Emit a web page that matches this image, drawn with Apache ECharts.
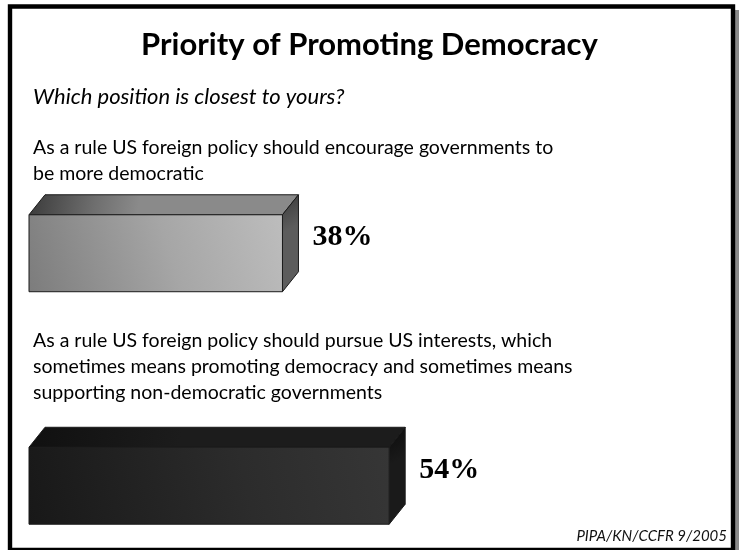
<!DOCTYPE html>
<html>
<head>
<meta charset="utf-8">
<script src="https://cdn.jsdelivr.net/npm/echarts@6/dist/echarts.min.js"></script>
<style>
  html, body { margin: 0; padding: 0; background: #fff; }
  #chart { width: 739px; height: 550px; }
</style>
</head>
<body>
<div id="chart"></div>
<script>
// Survey answers and their shares (percent)
const categories = [
  'As a rule US foreign policy should encourage governments to\nbe more democratic',
  'As a rule US foreign policy should pursue US interests, which\nsometimes means promoting democracy and sometimes means\nsupporting non-democratic governments'
];
const shares = [38, 54];

const titleText = 'Priority of Promoting Democracy';
const questionText = 'Which position is closest to yours?';
const sourceText = 'PIPA/KN/CCFR 9/2005';

const FONT = 'Lato, "Open Sans", sans-serif';

// Face shading for each box: front, top, side
const palettes = [
  {
    front: [['#7c7c7c', 0], ['#a6a6a6', 0.55], ['#bdbdbd', 1]],
    top: [['#3a3a3a', 0], ['#6e6e6e', 0.6], ['#8a8a8a', 1]],
    side: [['#3a3a3a', 0], ['#5c5c5c', 1]]
  },
  {
    front: [['#181818', 0], ['#2c2c2c', 0.6], ['#363636', 1]],
    top: [['#101010', 0], ['#1c1c1c', 1]],
    side: [['#0c0c0c', 0], ['#1a1a1a', 1]]
  }
];

function grad(x, y, x2, y2, stops) {
  return new echarts.graphic.LinearGradient(x, y, x2, y2,
    stops.map(s => ({ color: s[0], offset: s[1] })));
}

const DX = 16, DY = 20;

function renderBox(params, api) {
  const idx = api.value(1);
  const val = api.value(0);
  const start = api.coord([0, idx]);
  const end = api.coord([val, idx]);
  const h = api.size([0, 1])[1] * 0.331;
  const x0 = start[0], x1 = end[0], yc = start[1];
  const yt = yc - h / 2, yb = yc + h / 2;
  const pal = palettes[idx];
  const stroke = '#1a1a1a';
  return {
    type: 'group',
    children: [
      {
        type: 'polygon',
        shape: { points: [[x0, yt], [x0 + DX, yt - DY], [x1 + DX, yt - DY], [x1, yt]] },
        style: { fill: grad(0, 0, 0.4, 1, pal.top), stroke: stroke, lineWidth: 1 }
      },
      {
        type: 'polygon',
        shape: { points: [[x1, yt], [x1 + DX, yt - DY], [x1 + DX, yb - DY], [x1, yb]] },
        style: { fill: grad(0, 0, 1, 0.3, pal.side), stroke: stroke, lineWidth: 1 }
      },
      {
        type: 'rect',
        shape: { x: x0, y: yt, width: x1 - x0, height: h },
        style: { fill: grad(0, 1, 1, 0, pal.front), stroke: stroke, lineWidth: 1 }
      },
      {
        type: 'text',
        x: x1 + DX + 14,
        y: yc - 16,
        style: {
          text: val + '%',
          fill: '#000',
          font: 'bold 30px "Liberation Serif", "Times New Roman", serif',
          verticalAlign: 'middle',
          align: 'left'
        }
      }
    ]
  };
}

const chart = echarts.init(document.getElementById('chart'), null, { renderer: 'canvas' });

chart.setOption({
  backgroundColor: '#fff',
  animation: false,
  grid: { left: 29, width: 667, top: 137, height: 465, outerBoundsMode: 'none', containLabel: false },
  xAxis: { type: 'value', min: 0, max: 100, show: false },
  yAxis: { type: 'category', data: categories, inverse: true, show: false },
  series: [{
    type: 'custom',
    renderItem: renderBox,
    encode: { x: 0, y: 1 },
    data: shares.map((v, i) => [v, i]),
    clip: false
  }],
  graphic: [
    // drop shadow along the right edge of the frame
    { type: 'rect', shape: { x: 735, y: 10, width: 4, height: 540 }, style: { fill: '#8a8a8a' }, silent: true },
    // frame
    { type: 'rect', shape: { x: 10, y: 6.5, width: 723, height: 543.5 }, style: { fill: null, stroke: '#000', lineWidth: 4.4 }, silent: true },
    {
      type: 'text', x: 369.5, y: 45,
      style: { text: titleText, font: 'bold 31px ' + FONT, fill: '#000', align: 'center', verticalAlign: 'middle' }
    },
    {
      type: 'text', x: 33, y: 97,
      style: { text: questionText, font: 'italic 22px ' + FONT, fill: '#000', align: 'left', verticalAlign: 'middle' }
    },
    {
      type: 'text', x: 33, y: 135,
      style: { text: categories[0], font: '19.5px ' + FONT, lineHeight: 26, fill: '#000', align: 'left', verticalAlign: 'top' }
    },
    {
      type: 'text', x: 33, y: 328,
      style: { text: categories[1], font: '19.5px ' + FONT, lineHeight: 26, fill: '#000', align: 'left', verticalAlign: 'top' }
    },
    {
      type: 'text', x: 727, y: 536,
      style: { text: sourceText, font: 'italic 15px ' + FONT, fill: '#111', align: 'right', verticalAlign: 'middle' }
    }
  ]
});
</script>
</body>
</html>
